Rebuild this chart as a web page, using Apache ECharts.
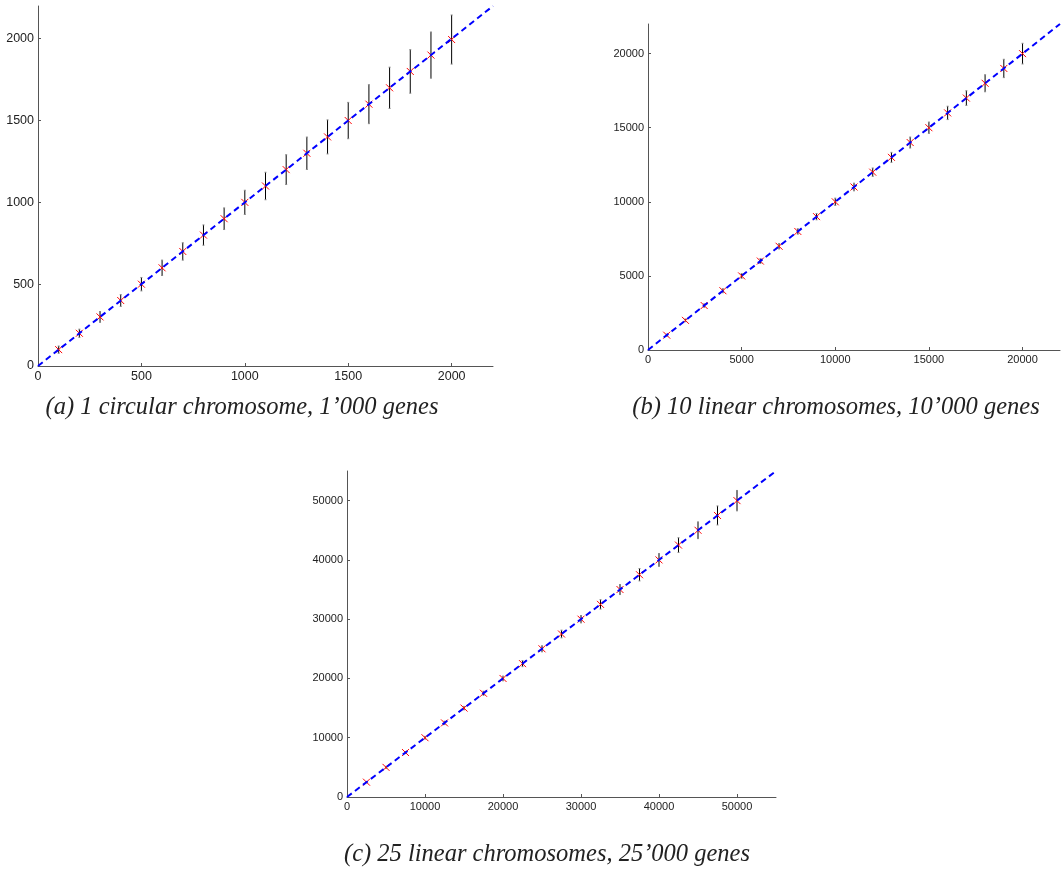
<!DOCTYPE html>
<html>
<head>
<meta charset="utf-8">
<script src="https://cdn.jsdelivr.net/npm/echarts@6/dist/echarts.min.js"></script>
<style>
  html, body { margin: 0; padding: 0; background: #fff; }
  #chart { width: 1062px; height: 874px; }
</style>
</head>
<body>
<div id="chart"></div>
<script>
// panel (a): 1 circular chromosome
const genesA = [100, 200, 300, 400, 500, 600, 700, 800, 900, 1000, 1100, 1200, 1300, 1400, 1500, 1600, 1700, 1800, 1900, 2000]
const meanA = [100, 200, 300, 400, 500, 600, 700, 800, 900, 1000, 1100, 1200, 1300, 1400, 1500, 1600, 1700, 1800, 1900, 1995]
const errA = [22, 25, 33, 36, 41, 47, 53, 62, 66, 74, 84, 91, 99, 104, 111, 119, 126, 133, 141, 150]

// panel (b): 10 linear chromosomes
const genesB = [1000, 2000, 3000, 4000, 5000, 6000, 7000, 8000, 9000, 10000, 11000, 12000, 13000, 14000, 15000, 16000, 17000, 18000, 19000, 20000]
const meanB = [1000, 2000, 3000, 4000, 5000, 6000, 7000, 8000, 9000, 10000, 11000, 12000, 13000, 14000, 15000, 16000, 17000, 18000, 19000, 20000]
const errB = [67, 90, 112, 135, 157, 157, 180, 180, 213, 247, 258, 281, 337, 370, 382, 450, 494, 573, 618, 697]

// panel (c): 25 linear chromosomes
const genesC = [2500, 5000, 7500, 10000, 12500, 15000, 17500, 20000, 22500, 25000, 27500, 30000, 32500, 35000, 37500, 40000, 42500, 45000, 47500, 50000]
const meanC = [2500, 5000, 7500, 10000, 12500, 15000, 17500, 20000, 22500, 25000, 27500, 30000, 32500, 35000, 37500, 40000, 42500, 45000, 47500, 50000]
const errC = [113, 170, 170, 225, 282, 282, 338, 394, 507, 507, 648, 620, 788, 845, 1042, 1070, 1239, 1408, 1605, 1717]

// axis ranges and tick steps
const axisMax = [2200, 22000, 55000]
const axisStep = [500, 5000, 10000]
const captions = [
  '(a) 1 circular chromosome, 1\u2019000 genes',
  '(b) 10 linear chromosomes, 10\u2019000 genes',
  '(c) 25 linear chromosomes, 25\u2019000 genes',
]

const grids = [
  { left: 38, top: 6, width: 455, height: 360 },
  { left: 648, top: 24, width: 412, height: 326 },
  { left: 347, top: 471, width: 429, height: 326 },
]
const labelSize = [12.5, 11, 11]
const panels = [
  { x: genesA, y: meanA, e: errA },
  { x: genesB, y: meanB, e: errB },
  { x: genesC, y: meanC, e: errC },
]

const axisLine = { show: true, lineStyle: { color: '#555', width: 1 } }
const axisTick = { show: true, inside: true, length: 3, lineStyle: { color: '#555' } }

function makeAxis (i) {
  return {
    gridIndex: i,
    type: 'value',
    min: 0,
    max: axisMax[i],
    interval: axisStep[i],
    axisLine: axisLine,
    axisTick: axisTick,
    splitLine: { show: false },
    axisLabel: {
      color: '#222',
      fontFamily: 'Liberation Sans, Arial, sans-serif',
      fontSize: labelSize[i],
      margin: 4,
      showMaxLabel: false,
      formatter: v => String(v),
    },
  }
}

function renderErr (params, api) {
  const x = api.value(0)
  const y = api.value(1)
  const e = api.value(2)
  const top = api.coord([x, y + e])
  const bot = api.coord([x, y - e])
  const cap = { stroke: '#888', lineWidth: 1 }
  return {
    type: 'group',
    children: [
      { type: 'line', shape: { x1: top[0], y1: top[1], x2: bot[0], y2: bot[1] }, style: { stroke: '#000', lineWidth: 1 } },
      { type: 'line', shape: { x1: top[0] - 1, y1: top[1], x2: top[0] + 1, y2: top[1] }, style: cap },
      { type: 'line', shape: { x1: bot[0] - 1, y1: bot[1], x2: bot[0] + 1, y2: bot[1] }, style: cap },
    ],
  }
}

function renderCross (params, api) {
  const c = api.coord([api.value(0), api.value(1)])
  const r = 3.5
  const style = { stroke: '#ff0000', lineWidth: 1 }
  return {
    type: 'group',
    children: [
      { type: 'line', shape: { x1: c[0] - r, y1: c[1] - r, x2: c[0] + r, y2: c[1] + r }, style: style },
      { type: 'line', shape: { x1: c[0] - r, y1: c[1] + r, x2: c[0] + r, y2: c[1] - r }, style: style },
    ],
  }
}

const series = []
panels.forEach((p, i) => {
  const pts = p.x.map((v, k) => [v, p.y[k], p.e[k]])
  series.push({
    type: 'custom', xAxisIndex: i, yAxisIndex: i,
    renderItem: renderErr, data: pts, silent: true,
  })
  series.push({
    type: 'custom', xAxisIndex: i, yAxisIndex: i,
    renderItem: renderCross, data: pts, silent: true,
  })
  // y = x reference line across the whole axis range
  series.push({
    type: 'line', xAxisIndex: i, yAxisIndex: i,
    data: [[0, 0], [axisMax[i], axisMax[i]]],
    showSymbol: false, silent: true,
    lineStyle: { color: '#0000ff', width: 2, type: [6, 4] },
  })
})

const captionPos = [[242, 408], [836, 408], [547, 855]]

const chart = echarts.init(document.getElementById('chart'), null, { renderer: 'canvas' })
chart.setOption({
  animation: false,
  grid: grids,
  xAxis: [0, 1, 2].map(makeAxis),
  yAxis: [0, 1, 2].map(makeAxis),
  series: series,
  graphic: captions.map((t, i) => ({
    type: 'text',
    x: captionPos[i][0],
    y: captionPos[i][1],
    style: {
      text: t,
      font: 'italic 24.5px "Liberation Serif", "Times New Roman", serif',
      fill: '#222',
      textAlign: 'center',
      textVerticalAlign: 'middle',
    },
  })),
})
</script>
</body>
</html>
